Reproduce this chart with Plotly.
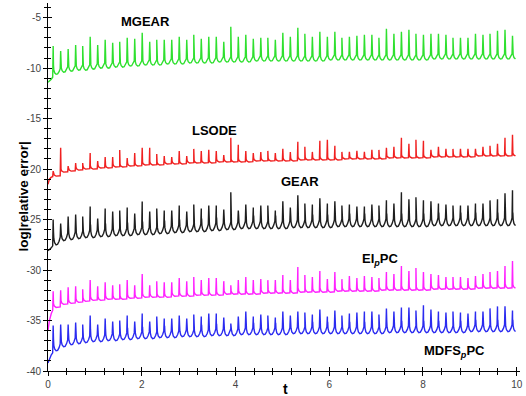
import plotly.graph_objects as go

# ---------------- data ----------------
spike_t = [0.11, 0.27, 0.43, 0.59, 0.74, 0.90, 1.06, 1.22, 1.38, 1.53,
           1.69, 1.85, 2.01, 2.17, 2.32, 2.48, 2.64, 2.80, 2.96, 3.11,
           3.27, 3.43, 3.59, 3.75, 3.90, 4.06, 4.22, 4.38, 4.54, 4.69,
           4.85, 5.01, 5.17, 5.33, 5.48, 5.64, 5.80, 5.96, 6.12, 6.27,
           6.43, 6.59, 6.75, 6.91, 7.06, 7.22, 7.38, 7.54, 7.70, 7.85,
           8.01, 8.17, 8.33, 8.49, 8.64, 8.80, 8.96, 9.12, 9.28, 9.43,
           9.59, 9.75, 9.91]
start_t = [0.0, 0.03, 0.07, 0.10]

mgear_start = [-11.4, -11.3, -11.1, -10.9]
mgear_peak = [-7.8, -8.3, -8.1, -7.7, -7.8, -6.9, -7.7, -7.2, -7.5, -7.4,
              -7.0, -7.1, -6.5, -7.4, -7.2, -7.2, -7.2, -6.9, -7.2, -6.7,
              -7.1, -6.9, -6.9, -7.4, -5.9, -6.9, -6.7, -7.1, -7.0, -7.0,
              -7.2, -6.5, -6.9, -6.0, -6.6, -6.9, -6.4, -6.9, -6.4, -7.0,
              -6.9, -6.8, -6.7, -6.7, -7.0, -6.1, -6.6, -6.4, -6.2, -6.6,
              -6.7, -6.6, -6.6, -6.7, -7.0, -7.0, -7.0, -6.6, -6.7, -6.6,
              -6.3, -6.2, -6.8]
mgear_base = [-10.6, -10.4, -10.3, -10.2, -10.2, -10.1, -10.0, -10.0, -9.9, -9.9,
              -9.8, -9.8, -9.7, -9.7, -9.7, -9.6, -9.6, -9.6, -9.5, -9.5,
              -9.5, -9.5, -9.4, -9.4, -9.4, -9.4, -9.4, -9.3, -9.3, -9.3,
              -9.3, -9.3, -9.3, -9.3, -9.3, -9.3, -9.3, -9.2, -9.2, -9.2,
              -9.2, -9.2, -9.2, -9.2, -9.2, -9.2, -9.2, -9.2, -9.2, -9.2,
              -9.2, -9.1, -9.1, -9.1, -9.1, -9.1, -9.1, -9.1, -9.1, -9.1,
              -9.1, -9.1, -9.1]

lsode_start = [-21.5, -21.0, -20.8, -20.75]
lsode_peak = [-20.2, -17.9, -19.7, -19.4, -19.4, -18.4, -19.2, -18.8, -18.8, -18.1,
              -18.9, -18.4, -17.9, -17.9, -18.5, -18.7, -18.8, -18.2, -18.7, -18.0,
              -18.2, -18.1, -18.2, -18.6, -16.9, -17.6, -18.2, -18.4, -18.3, -18.2,
              -18.4, -18.0, -18.3, -17.3, -17.8, -18.3, -17.2, -17.1, -17.7, -18.3,
              -18.3, -18.2, -18.3, -18.1, -18.1, -17.9, -17.8, -16.9, -17.5, -17.1,
              -17.2, -18.1, -17.8, -18.0, -18.0, -18.0, -18.0, -18.0, -17.8, -17.7,
              -17.5, -16.9, -16.6]
lsode_base = [-20.7, -20.3, -20.2, -20.1, -20.0, -20.0, -19.9, -19.9, -19.8, -19.8,
              -19.7, -19.7, -19.6, -19.6, -19.6, -19.5, -19.5, -19.5, -19.4, -19.4,
              -19.4, -19.4, -19.3, -19.3, -19.3, -19.3, -19.3, -19.2, -19.2, -19.2,
              -19.2, -19.2, -19.2, -19.1, -19.1, -19.1, -19.1, -19.1, -19.1, -19.0,
              -19.0, -19.0, -19.0, -19.0, -19.0, -18.9, -18.9, -18.9, -18.9, -18.9,
              -18.9, -18.8, -18.8, -18.8, -18.8, -18.8, -18.8, -18.7, -18.7, -18.7,
              -18.7, -18.7, -18.7]

gear_start = [-28.1, -28.0, -27.8, -27.6]
gear_peak = [-25.0, -25.4, -24.7, -24.5, -24.7, -23.7, -24.9, -23.9, -24.2, -24.1,
             -23.8, -24.4, -23.2, -24.2, -23.9, -24.1, -24.1, -23.6, -24.2, -23.5,
             -23.9, -23.6, -23.6, -24.0, -22.3, -24.1, -23.5, -23.8, -23.6, -23.6,
             -24.1, -23.2, -23.8, -22.6, -23.4, -23.5, -22.9, -23.4, -23.2, -23.6,
             -23.5, -23.7, -23.7, -23.5, -23.6, -23.1, -23.4, -22.3, -23.0, -22.8,
             -23.1, -23.2, -23.4, -23.5, -23.6, -23.6, -23.6, -23.4, -23.4, -23.1,
             -23.0, -22.4, -22.1]
gear_base = [-27.5, -27.1, -27.0, -26.9, -26.8, -26.8, -26.7, -26.7, -26.6, -26.6,
             -26.6, -26.5, -26.5, -26.5, -26.4, -26.4, -26.3, -26.3, -26.2, -26.2,
             -26.2, -26.1, -26.1, -26.0, -26.0, -25.9, -25.9, -25.9, -25.9, -25.9,
             -25.9, -25.9, -25.8, -25.8, -25.8, -25.8, -25.8, -25.8, -25.7, -25.7,
             -25.7, -25.7, -25.7, -25.7, -25.7, -25.7, -25.7, -25.7, -25.7, -25.7,
             -25.7, -25.6, -25.6, -25.6, -25.6, -25.6, -25.6, -25.6, -25.6, -25.6,
             -25.6, -25.6, -25.6]

eipc_start = [-36.0, -35.0, -34.3, -34.0]
eipc_peak = [-32.1, -32.0, -31.7, -31.6, -31.9, -31.0, -31.6, -31.2, -31.5, -31.4,
             -31.0, -31.5, -30.4, -31.5, -31.1, -31.2, -31.2, -30.8, -31.1, -30.7,
             -31.0, -30.8, -30.8, -31.1, -31.5, -31.0, -30.7, -31.0, -30.9, -31.0,
             -31.0, -30.5, -31.0, -29.7, -30.5, -30.7, -30.1, -30.9, -30.2, -30.9,
             -30.6, -30.8, -30.6, -30.7, -30.8, -30.2, -30.4, -29.6, -30.1, -29.8,
             -30.2, -30.4, -30.5, -30.7, -30.7, -30.7, -30.8, -30.6, -30.4, -30.2,
             -30.1, -29.6, -29.1]
eipc_base = [-33.7, -33.4, -33.3, -33.2, -33.1, -33.0, -33.0, -32.9, -32.9, -32.9,
             -32.8, -32.8, -32.7, -32.7, -32.7, -32.7, -32.6, -32.6, -32.6, -32.5,
             -32.5, -32.5, -32.5, -32.4, -32.4, -32.4, -32.4, -32.4, -32.3, -32.3,
             -32.3, -32.3, -32.3, -32.2, -32.2, -32.2, -32.2, -32.2, -32.1, -32.1,
             -32.1, -32.1, -32.1, -32.1, -32.0, -32.0, -32.0, -32.0, -32.0, -32.0,
             -32.0, -31.9, -31.9, -31.9, -31.9, -31.9, -31.9, -31.8, -31.8, -31.8,
             -31.8, -31.8, -31.8]

mdfs_start = [-39.2, -38.8, -38.4, -38.2]
mdfs_peak = [-35.5, -35.4, -35.4, -35.2, -35.4, -34.5, -35.4, -34.8, -35.1, -35.0,
             -34.5, -35.1, -34.3, -35.1, -34.6, -34.8, -34.8, -34.5, -34.8, -34.4,
             -34.6, -34.3, -34.3, -34.7, -35.3, -34.6, -34.1, -34.6, -34.4, -34.5,
             -34.7, -34.1, -34.5, -34.1, -34.2, -34.4, -33.9, -34.6, -34.0, -34.5,
             -34.3, -34.2, -34.1, -34.1, -34.4, -33.8, -34.1, -33.7, -33.7, -34.0,
             -33.5, -33.9, -34.1, -34.2, -34.1, -34.2, -34.3, -34.1, -34.1, -33.8,
             -33.6, -33.6, -34.0]
mdfs_base = [-38.0, -37.6, -37.4, -37.3, -37.2, -37.1, -37.1, -37.0, -37.0, -36.9,
             -36.9, -36.8, -36.8, -36.8, -36.7, -36.7, -36.7, -36.6, -36.6, -36.6,
             -36.6, -36.5, -36.5, -36.5, -36.5, -36.4, -36.4, -36.4, -36.4, -36.4,
             -36.4, -36.4, -36.3, -36.3, -36.3, -36.3, -36.3, -36.3, -36.3, -36.3,
             -36.3, -36.3, -36.3, -36.3, -36.3, -36.2, -36.2, -36.2, -36.2, -36.2,
             -36.2, -36.2, -36.2, -36.2, -36.2, -36.2, -36.1, -36.1, -36.1, -36.1,
             -36.1, -36.1, -36.1]

x_tick_vals = [0, 2, 4, 6, 8, 10]
y_tick_vals = [-40, -35, -30, -25, -20, -15, -10, -5]

# ---------------- styling / waveform template ----------------
PERIOD = 0.158
ROUND = [(0.02, 0.7), (0.045, 1.3), (0.09, 0.6), (0.2, 0.2), (0.4, 0.0),
         (0.6, 0.05), (0.8, 0.35), (0.95, 0.75)]
FLAT = [(0.02, 1.0), (0.05, 0.8), (0.15, 0.3), (0.4, 0.0), (0.95, 0.1)]
T_END = 10.0


def wave(start_vals, peaks, bases, s, shape):
    xs, ys = list(start_t), list(start_vals)
    for tk, pk, bk in zip(spike_t, peaks, bases):
        xs.append(tk)
        ys.append(pk)
        for ph, f in shape:
            t = tk + ph * PERIOD
            if t > T_END:
                break
            xs.append(t)
            ys.append(bk + f * s)
    return xs, ys


series = [
    (mgear_start, mgear_peak, mgear_base, 0.7, ROUND, "#2fe02f"),
    (lsode_start, lsode_peak, lsode_base, 0.35, FLAT, "#f02020"),
    (gear_start, gear_peak, gear_base, 1.0, ROUND, "#1e1e1e"),
    (eipc_start, eipc_peak, eipc_base, 0.45, FLAT, "#ff22ff"),
    (mdfs_start, mdfs_peak, mdfs_base, 0.9, ROUND, "#2b2bf0"),
]

fig = go.Figure()
for st, pk, bs, s, shp, col in series:
    xs, ys = wave(st, pk, bs, s, shp)
    fig.add_trace(go.Scatter(x=xs, y=ys, mode="lines",
                             line=dict(color=col, width=1.4),
                             hoverinfo="skip"))

# invisible trace so the overlay axes (inner tick halves) are drawn
fig.add_trace(go.Scatter(x=[0], y=[-40], mode="markers", opacity=0,
                         xaxis="x2", yaxis="y2", hoverinfo="skip"))

FONT = "Liberation Sans, Arial, sans-serif"
XR = [0, 10.07]
YR = [-40, -3.55]

fig.update_layout(
    width=526, height=396,
    margin=dict(l=48, r=4, t=3, b=25),
    plot_bgcolor="white", paper_bgcolor="white",
    showlegend=False,
    xaxis=dict(range=XR, showline=True, linecolor="black", linewidth=1,
               ticks="outside", ticklen=4, tickcolor="black", tickwidth=1,
               tickvals=x_tick_vals, ticktext=[str(v) for v in x_tick_vals],
               minor=dict(ticks="outside", ticklen=3, dtick=0.4, tick0=0,
                          tickcolor="black"),
               showgrid=False, zeroline=False,
               tickfont=dict(family=FONT, size=10, color="#444444")),
    yaxis=dict(range=YR, showline=True, linecolor="black", linewidth=1,
               ticks="outside", ticklen=4, tickcolor="black", tickwidth=1,
               tickvals=y_tick_vals, ticktext=[str(v) for v in y_tick_vals],
               minor=dict(ticks="outside", ticklen=3, dtick=1, tick0=-40,
                          tickcolor="black"),
               showgrid=False, zeroline=False,
               tickfont=dict(family=FONT, size=10, color="#444444")),
    xaxis2=dict(range=XR, overlaying="x", anchor="y2", side="bottom",
                ticks="inside", ticklen=4, tickcolor="black",
                tickvals=x_tick_vals, showticklabels=False,
                minor=dict(ticks="inside", ticklen=3, dtick=0.4, tick0=0,
                           tickcolor="black"),
                showgrid=False, zeroline=False, showline=False),
    yaxis2=dict(range=YR, overlaying="y", anchor="x2", side="left",
                ticks="inside", ticklen=4, tickcolor="black",
                tickvals=y_tick_vals, showticklabels=False,
                minor=dict(ticks="inside", ticklen=3, dtick=1, tick0=-40,
                           tickcolor="black"),
                showgrid=False, zeroline=False, showline=False),
)

labels = [
    ("<b>MGEAR</b>", 2.08, -5.35),
    ("<b>LSODE</b>", 3.55, -16.15),
    ("<b>GEAR</b>", 5.37, -21.25),
    ("<b>EI<sub><i>p</i></sub>PC</b>", 7.09, -29.0),
    ("<b>MDFS<sub><i>p</i></sub>PC</b>", 8.67, -38.1),
]
for txt, x, y in labels:
    fig.add_annotation(x=x, y=y, xref="x", yref="y", text=txt, showarrow=False,
                       font=dict(family=FONT, size=13, color="black"))

fig.add_annotation(x=-0.072, y=0.473, xref="paper", yref="paper",
                   text="<b>log|relative error|</b>", textangle=-90,
                   showarrow=False, font=dict(family=FONT, size=13.5, color="black"))
fig.add_annotation(x=0.504, y=-0.048, xref="paper", yref="paper",
                   text="<b>t</b>", showarrow=False, yanchor="middle",
                   font=dict(family=FONT, size=14, color="black"))

fig.write_html("out.html")
